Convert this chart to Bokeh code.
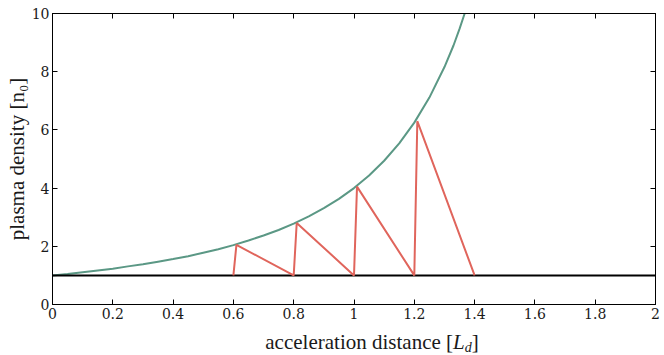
from bokeh.plotting import figure
from bokeh.models import LinearAxis, FixedTicker, Range1d, Div
from bokeh.layouts import column
from bokeh.embed import file_html
from bokeh.resources import INLINE

# envelope (green curve)
env_x = [0.0, 0.05, 0.1, 0.15, 0.2, 0.25, 0.3, 0.35, 0.4, 0.45, 0.5, 0.55, 0.6, 0.65, 0.7,
         0.75, 0.8, 0.85, 0.9, 0.95, 1.0, 1.05, 1.1, 1.15, 1.2, 1.25, 1.3, 1.33, 1.35, 1.367]
env_y = [1.0, 1.05, 1.11, 1.17, 1.23, 1.31, 1.38, 1.47, 1.56, 1.66, 1.78, 1.90, 2.04, 2.20, 2.37,
         2.56, 2.78, 3.03, 3.31, 3.63, 4.00, 4.43, 4.94, 5.54, 6.25, 7.11, 8.16, 8.90, 9.47, 10.0]
# sawtooth (red)
saw_x = [0.6, 0.61, 0.8, 0.81, 1.0, 1.01, 1.2, 1.21, 1.4]
saw_y = [1.0, 2.05, 1.0, 2.8, 1.0, 4.05, 1.0, 6.3, 1.0]
# baseline (black)
base_x = [0.0, 2.0]
base_y = [1.0, 1.0]

x_ticks = [0, 0.2, 0.4, 0.6, 0.8, 1.0, 1.2, 1.4, 1.6, 1.8, 2.0]
x_tick_labels = {0: "0", 0.2: "0.2", 0.4: "0.4", 0.6: "0.6", 0.8: "0.8", 1.0: "1",
                 1.2: "1.2", 1.4: "1.4", 1.6: "1.6", 1.8: "1.8", 2.0: "2"}
y_ticks = [0, 2, 4, 6, 8, 10]
x_title_html = ("acceleration distance [<i>L</i><sub style='font-size:14px;line-height:0;"
                "vertical-align:-3px'><i>d</i></sub>]")
y_title = "plasma density [n₀]"

FONT = "Liberation Serif"
TICK_FONT = "DejaVu Serif"
TXT = "#1a1a1a"

p = figure(width=664, height=327, output_backend="svg", toolbar_location=None,
           x_range=Range1d(0, 2), y_range=Range1d(0, 10))
p.min_border_left = 52
p.min_border_right = 9
p.min_border_top = 13
p.min_border_bottom = 23
p.outline_line_color = "black"
p.outline_line_width = 1
p.grid.visible = False

p.line(env_x, env_y, line_color="#5b9885", line_width=2)
p.line(base_x, base_y, line_color="black", line_width=2)
p.line(saw_x, saw_y, line_color="#e0655c", line_width=2)

for ax in p.xaxis:
    ax.ticker = FixedTicker(ticks=x_ticks)
    ax.major_label_overrides = x_tick_labels
for ax in p.yaxis:
    ax.ticker = FixedTicker(ticks=y_ticks)
    ax.axis_label = y_title

for ax in list(p.xaxis) + list(p.yaxis):
    ax.major_tick_in = 5
    ax.major_tick_out = 0
    ax.minor_tick_line_color = None
    ax.axis_line_color = "black"
    ax.major_label_text_font = TICK_FONT
    ax.major_label_text_font_size = "14px"
    ax.major_label_text_color = TXT
    ax.axis_label_text_font = FONT
    ax.axis_label_text_font_size = "21px"
    ax.axis_label_text_font_style = "normal"
    ax.axis_label_text_color = TXT
    ax.major_label_standoff = 3
    ax.axis_label_standoff = 0

top = LinearAxis(ticker=FixedTicker(ticks=x_ticks),
                 major_label_overrides={t: "" for t in x_ticks},
                 major_tick_in=5, major_tick_out=0, minor_tick_line_color=None)
right = LinearAxis(ticker=FixedTicker(ticks=y_ticks),
                   major_label_overrides={t: "" for t in y_ticks},
                   major_tick_in=5, major_tick_out=0, minor_tick_line_color=None)
top.major_label_standoff = 0
right.major_label_standoff = 0
p.add_layout(top, "above")
p.add_layout(right, "right")

title = Div(text=("<div style=\"box-sizing:border-box;width:664px;padding-left:70px;margin:0;"
                  "text-align:center;font-family:'Liberation Serif',serif;font-size:21px;"
                  "line-height:20px;color:%s;\">%s</div>" % (TXT, x_title_html)),
            width=664, height=28)

layout = column(p, title, spacing=0)
open("out.html", "w").write(file_html(layout, INLINE))
